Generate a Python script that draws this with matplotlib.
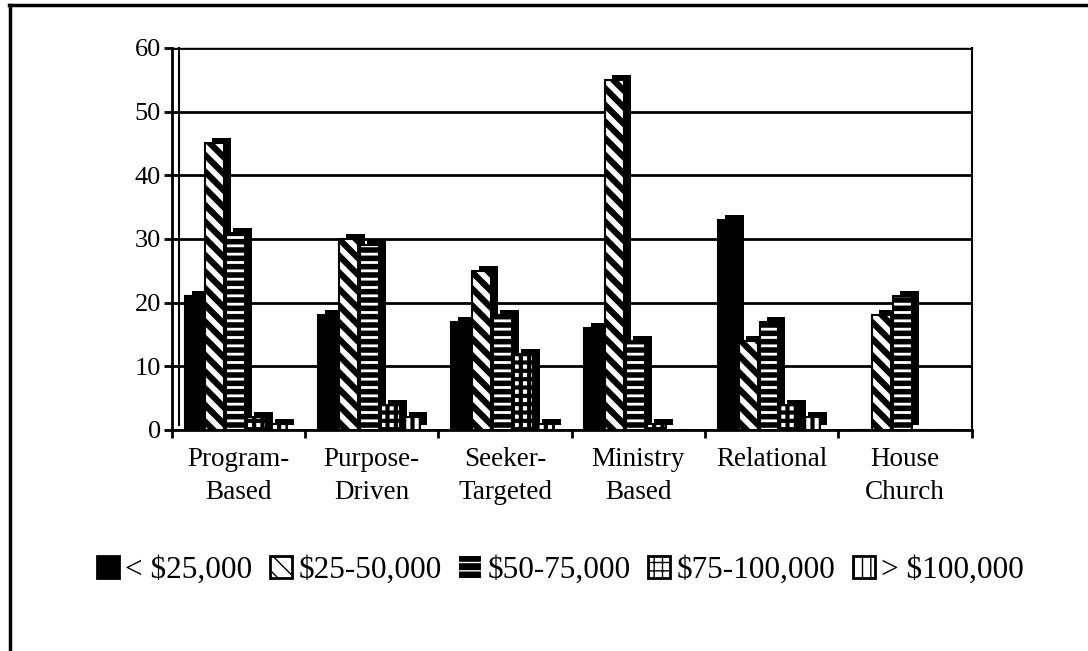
import matplotlib
matplotlib.use("Agg")
import matplotlib.pyplot as plt
import matplotlib.transforms as mtransforms
from matplotlib.lines import Line2D
import numpy as np

plt.rcParams['font.family'] = ['Liberation Serif', 'DejaVu Serif']

categories = ["Program-\nBased", "Purpose-\nDriven", "Seeker-\nTargeted",
              "Ministry\nBased", "Relational", "House\nChurch"]
series_names = ["< $25,000", "$25-50,000", "$50-75,000", "$75-100,000", "> $100,000"]

under_25k = [21, 18, 17, 16, 33, 0]
from_25_50k = [45, 30, 25, 55, 14, 18]
from_50_75k = [31, 29, 18, 14, 17, 21]
from_75_100k = [2, 4, 12, 1, 4, 0]
over_100k = [1, 2, 1, 0, 2, 0]

yticks = [0, 10, 20, 30, 40, 50, 60]

series = [under_25k, from_25_50k, from_50_75k, from_75_100k, over_100k]
# face colour, hatch colour, hatch, hatch width
styles = [("black", "black", None, 1.0),
          ("white", "black", "\\\\", 4.5),
          ("black", "white", "--", 2.0),
          ("white", "black", "++", 3.0),
          ("white", "black", "||", 3.0)]

fig = plt.figure(figsize=(10.88, 6.51), dpi=100)
ax = fig.add_axes([0.158, 0.3395, 0.735, 0.587])

x = np.arange(len(categories))
pitch = 0.157
width = 0.142
# shadow for the fake 3d depth, shifted up and right
shadow = mtransforms.offset_copy(ax.transData, fig=fig, x=7, y=5, units='dots')

handles = []
for k, vals in enumerate(series):
    pos = x + (k - 2) * pitch - 0.02
    fc, hc, h, hw = styles[k]
    ax.bar(pos, vals, width, color="black", linewidth=0, transform=shadow, zorder=3 + 3 * k)
    with plt.rc_context({'hatch.linewidth': hw}):
        face = ax.bar(pos, vals, width, facecolor=fc, edgecolor=hc, hatch=h,
                      linewidth=0, zorder=4 + 3 * k, label=series_names[k])
    ax.bar(pos, vals, width, facecolor="none", edgecolor="black",
           linewidth=1.5, zorder=5 + 3 * k)
    handles.append(face)

ax.set_xlim(-0.5, len(categories) - 0.5)
ax.set_ylim(0, 60)
ax.set_yticks(yticks)
ax.set_yticklabels([str(t) for t in yticks], fontsize=19)
ax.yaxis.grid(True, color="black", linewidth=2)
ax.set_axisbelow(True)
# back wall edge next to the value axis
ax.plot([-0.5, -0.5], [0, 59.2], color="black", linewidth=1.5, transform=shadow,
        clip_on=False, zorder=2)

ax.set_xticks(np.arange(-0.5, len(categories), 1))
ax.set_xticklabels([])
ax.set_xticks(x, categories, minor=True, fontsize=19.5, linespacing=1.45)
ax.tick_params(axis='x', which='major', direction='out', length=6, width=2)
ax.tick_params(axis='x', which='minor', length=0, pad=12)
ax.tick_params(axis='y', direction='out', length=6, width=2, pad=2)

for side in ['left', 'bottom']:
    ax.spines[side].set_linewidth(2)
ax.spines['top'].set_linewidth(1)
ax.spines['right'].set_linewidth(1.5)

leg = fig.legend(handles=handles, loc='center', bbox_to_anchor=(0.515, 0.124),
                 ncol=5, frameon=False, fontsize=22.5, handlelength=0.72,
                 handleheight=0.72, handletextpad=0.2, columnspacing=0.55)
for k, p in enumerate(leg.get_patches()):
    if styles[k][1] == "black":
        p.set_edgecolor("black")
        p.set_linewidth(2)

# page frame: left and top edges only
fig.add_artist(Line2D([0.0095, 0.0095], [0, 0.992], color="black", linewidth=2.5))
fig.add_artist(Line2D([0.0085, 1], [0.992, 0.992], color="black", linewidth=2.5))

fig.savefig("out.png", dpi=100)
